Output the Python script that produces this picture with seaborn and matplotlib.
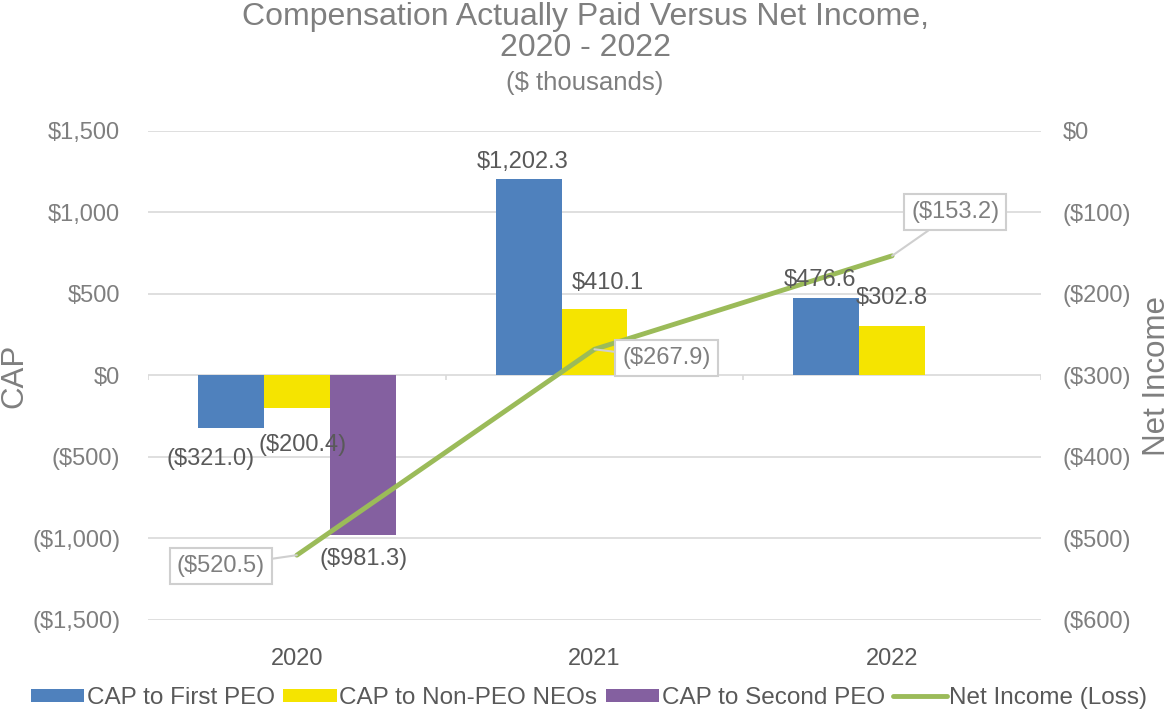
import pandas as pd
import numpy as np
import matplotlib.pyplot as plt
import seaborn as sns
from matplotlib.patches import Patch
from matplotlib.lines import Line2D

# chart data ($ thousands)
years = ['2020', '2021', '2022']
series = ['CAP to First PEO', 'CAP to Non-PEO NEOs', 'CAP to Second PEO']
cap_first_peo = [-321.0, 1202.3, 476.6]
cap_non_peo = [-200.4, 410.1, 302.8]
cap_second_peo = [-981.3, None, None]
net_income = [-520.5, -267.9, -153.2]

colors = ['#4F81BD', '#F5E400', '#8460A0']
line_color = '#9BBB59'
grid_color = '#D9D9D9'
text_gray = '#7F7F7F'
label_gray = '#595959'

rows = []
for s, vals in zip(series, [cap_first_peo, cap_non_peo, cap_second_peo]):
    for y, v in zip(years, vals):
        if v is not None:
            rows.append({'year': y, 'series': s, 'value': v})
cap_df = pd.DataFrame(rows)

sns.set_theme(style="white")
plt.rcParams['font.family'] = ['Liberation Sans', 'DejaVu Sans']

fig = plt.figure(figsize=(11.7, 7.14), dpi=100)
ax = fig.add_axes([0.1265, 0.1317, 0.7632, 0.6849])

sns.barplot(data=cap_df, x='year', y='value', hue='series', order=years,
            hue_order=series, palette=colors, saturation=1, width=0.664,
            linewidth=0, legend=False, ax=ax, zorder=3)

ax.set_xlim(-0.5, len(years) - 0.5)
ax.set_ylim(-1500, 1500)
ax.set_yticks(np.arange(-1500, 1501, 500))
ax.set_yticklabels([f'${v:,.0f}' if v >= 0 else f'(${-v:,.0f})' for v in np.arange(-1500, 1501, 500)])
ax.yaxis.grid(True, color=grid_color, lw=1.2)
ax.set_axisbelow(True)
for sp in ax.spines.values():
    sp.set_visible(False)
ax.tick_params(axis='y', length=0, pad=20, labelsize=17, labelcolor=text_gray)
ax.tick_params(axis='x', length=0, pad=20, labelsize=17, labelcolor=label_gray)
ax.set_xlabel('')
ax.set_ylabel('')
# category boundary ticks on the zero line
ax.vlines(np.arange(len(years) + 1) - 0.5, 0, -30, color=grid_color, lw=1.2, zorder=2)

# net income line on secondary axis
ax2 = ax.twinx()
sns.lineplot(x=np.arange(len(years)), y=net_income, color=line_color, lw=3.5,
             ax=ax2, zorder=4)
ax2.set_ylim(-600, 0)
ax2.set_yticks(np.arange(-600, 1, 100))
ax2.set_yticklabels([f'${v:,.0f}' if v >= 0 else f'(${-v:,.0f})' for v in np.arange(-600, 1, 100)])
ax2.tick_params(axis='y', length=0, pad=15.5, labelsize=17, labelcolor=text_gray)
for sp in ax2.spines.values():
    sp.set_visible(False)
ax2.grid(False)

# data labels on bars (drawn on ax2 so they sit above the line): (dx, dy) offsets in pixels
label_offsets = {
    (0, 0): (-20, -31), (0, 1): (-6, 17),  (0, 2): (-6, 18),
    (1, 0): (6, -37),   (1, 1): (13, 26),  (1, 2): (0, 28),
    (2, 0): (1, -24),
}
bar_patches = list(ax.patches)
for si, vals in enumerate([cap_first_peo, cap_non_peo, cap_second_peo]):
    bars = bar_patches[si * len(years):(si + 1) * len(years)]
    for ci, v in enumerate(vals):
        if v is None:
            continue
        bar = bars[ci]
        xc = bar.get_x() + bar.get_width() / 2
        txt = f'${v:,.1f}' if v >= 0 else f'(${-v:,.1f})'
        dx, dy = label_offsets[(si, ci)]
        ax2.annotate(txt, xy=(xc, v), xycoords=ax.transData, xytext=(dx, dy),
                     textcoords='offset pixels', ha='center', va='center',
                     fontsize=17, color=label_gray, zorder=5)

callout_offsets = [(-76, -11), (72, -9), (63, 44)]
for i, v in enumerate(net_income):
    dx, dy = callout_offsets[i]
    ax2.annotate(f'(${-v:,.1f})', xy=(i, v), xytext=(dx, dy), textcoords='offset pixels',
                 ha='center', va='center', fontsize=17, color=text_gray, zorder=6,
                 bbox=dict(boxstyle='square,pad=0.3', fc='white', ec='#CFCFCF', lw=1.5),
                 arrowprops=dict(arrowstyle='-', color='#CFCFCF', lw=1.5,
                                 shrinkA=0, shrinkB=0))

# titles
fig.text(0.5, 1 - 17 / 714, 'Compensation Actually Paid Versus Net Income,', ha='center', va='center',
         fontsize=23, color=text_gray)
fig.text(0.5, 1 - 48 / 714, '2020 - 2022', ha='center', va='center', fontsize=23, color=text_gray)
fig.text(0.5, 1 - 83 / 714, '($ thousands)', ha='center', va='center', fontsize=18.5, color=text_gray)
fig.text(14 / 1170, 1 - 376 / 714, 'CAP', rotation=90, ha='center', va='center', fontsize=22.5, color=text_gray)
fig.text(1157 / 1170, 1 - 376 / 714, 'Net Income', rotation=90, ha='center', va='center',
         fontsize=22.5, color=text_gray)

# legend
handles = [Patch(facecolor=c, edgecolor='none') for c in colors]
handles.append(Line2D([0], [0], color=line_color, lw=3.5))
leg = fig.legend(handles, series + ['Net Income (Loss)'], loc='center', bbox_to_anchor=(589 / 1170, 1 - 698 / 714),
                 ncol=4, frameon=False, fontsize=17.5, handlelength=2.2, handleheight=0.45,
                 handletextpad=0.1, columnspacing=0.35, borderaxespad=0)
for t in leg.get_texts():
    t.set_color(label_gray)

fig.savefig('out.png', dpi=100)
